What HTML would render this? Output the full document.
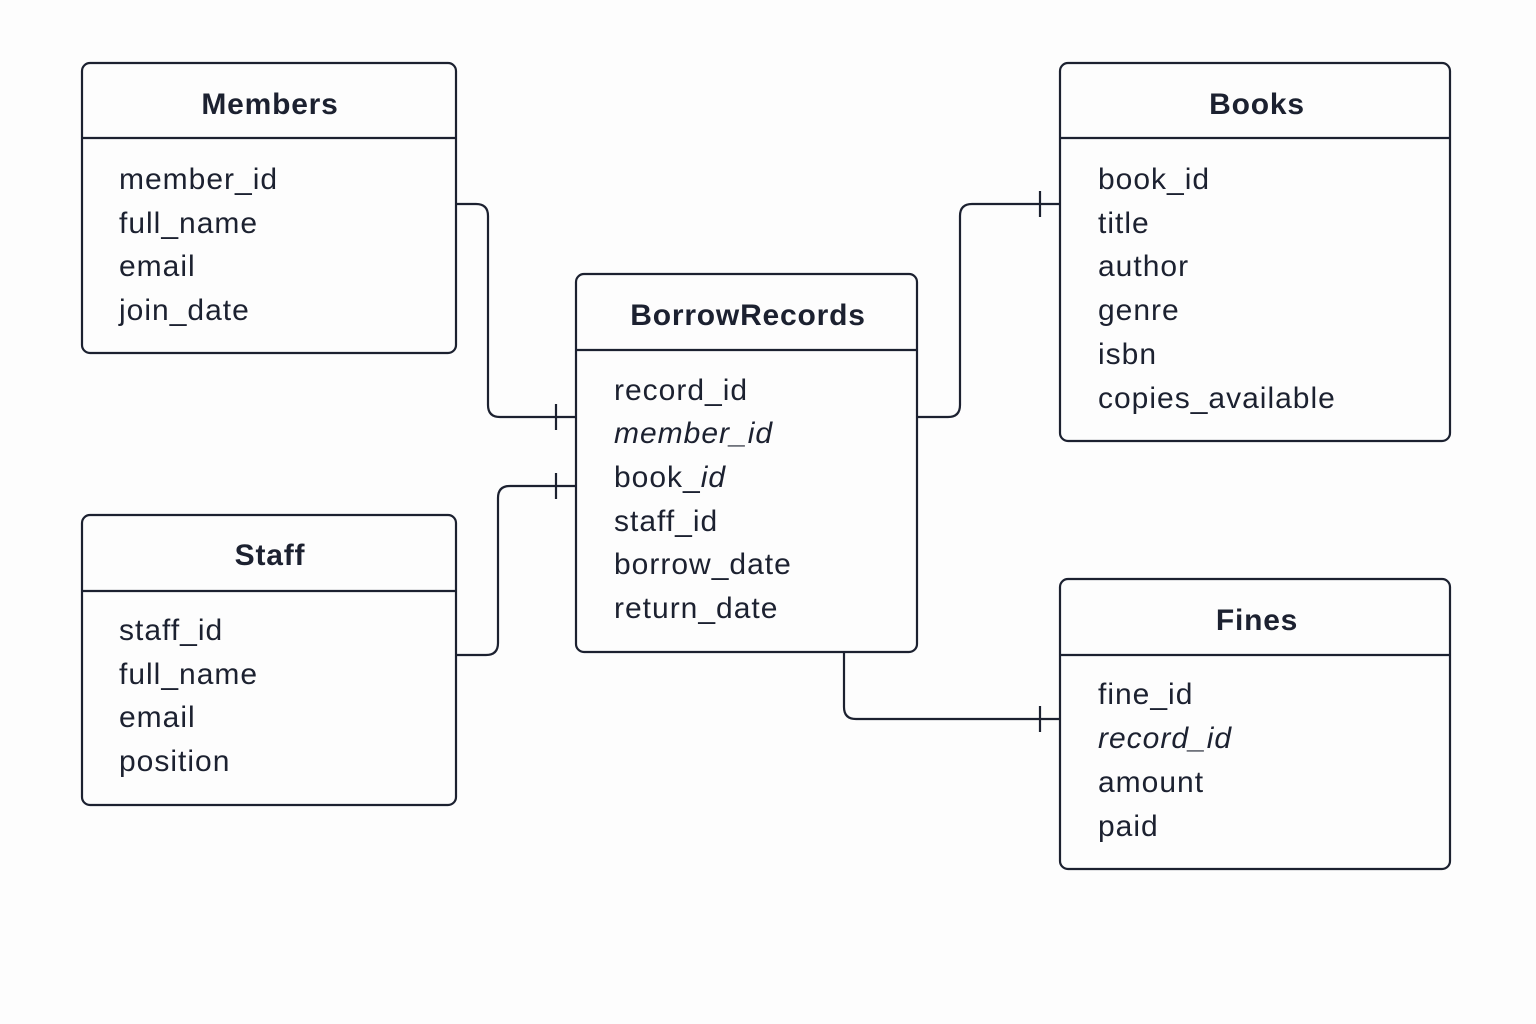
<!DOCTYPE html>
<html><head><meta charset="utf-8"><style>
html,body{margin:0;padding:0;background:#fdfdfd;}
svg{display:block;}
.t{font-family:"Liberation Sans",sans-serif;font-weight:bold;font-size:30px;fill:#1c2130;letter-spacing:0.8px;}
.f{font-family:"Liberation Sans",sans-serif;font-size:30px;fill:#1c2130;letter-spacing:1px;}
</style></head><body>
<svg width="1536" height="1024" viewBox="0 0 1536 1024" xmlns="http://www.w3.org/2000/svg">
<g fill="none" stroke="#1c2130" stroke-width="2.2">
<rect x="82" y="63" width="374" height="290" rx="8"/><line x1="82" y1="138" x2="456" y2="138"/>
<rect x="1060" y="63" width="390" height="378" rx="8"/><line x1="1060" y1="138" x2="1450" y2="138"/>
<rect x="576" y="274" width="341" height="378" rx="8"/><line x1="576" y1="350" x2="917" y2="350"/>
<rect x="82" y="515" width="374" height="290" rx="8"/><line x1="82" y1="591" x2="456" y2="591"/>
<rect x="1060" y="579" width="390" height="290" rx="8"/><line x1="1060" y1="655" x2="1450" y2="655"/>
<path d="M456 204 H476 Q488 204 488 216 V405 Q488 417 500 417 H576"/>
<line x1="556" y1="404" x2="556" y2="430"/>
<path d="M456 655 H486 Q498 655 498 643 V498 Q498 486 510 486 H576"/>
<line x1="556" y1="473" x2="556" y2="499"/>
<path d="M917 417 H948 Q960 417 960 405 V216 Q960 204 972 204 H1060"/>
<line x1="1040" y1="191" x2="1040" y2="217"/>
<path d="M844 652 V707 Q844 719 856 719 H1060"/>
<line x1="1040" y1="706" x2="1040" y2="732"/>
</g>
<text class="t" x="270" y="114" text-anchor="middle">Members</text>
<text class="t" x="1257" y="114" text-anchor="middle">Books</text>
<text class="t" x="748" y="325" text-anchor="middle">BorrowRecords</text>
<text class="t" x="270" y="565" text-anchor="middle">Staff</text>
<text class="t" x="1257" y="630" text-anchor="middle">Fines</text>
<g class="f">
<text x="119" y="189">member_id</text><text x="119" y="233">full_name</text><text x="119" y="276">email</text><text x="119" y="320">join_date</text>
<text x="1098" y="189">book_id</text><text x="1098" y="233">title</text><text x="1098" y="276">author</text><text x="1098" y="320">genre</text><text x="1098" y="364">isbn</text><text x="1098" y="408">copies_available</text>
<text x="614" y="400">record_id</text><text x="614" y="443" font-style="italic">member_id</text><text x="614" y="487">book_<tspan font-style="italic">id</tspan></text><text x="614" y="531">staff_id</text><text x="614" y="574">borrow_date</text><text x="614" y="618">return_date</text>
<text x="119" y="640">staff_id</text><text x="119" y="684">full_name</text><text x="119" y="727">email</text><text x="119" y="771">position</text>
<text x="1098" y="704">fine_id</text><text x="1098" y="748" font-style="italic">record_id</text><text x="1098" y="792">amount</text><text x="1098" y="836">paid</text>
</g>
</svg>
</body></html>
